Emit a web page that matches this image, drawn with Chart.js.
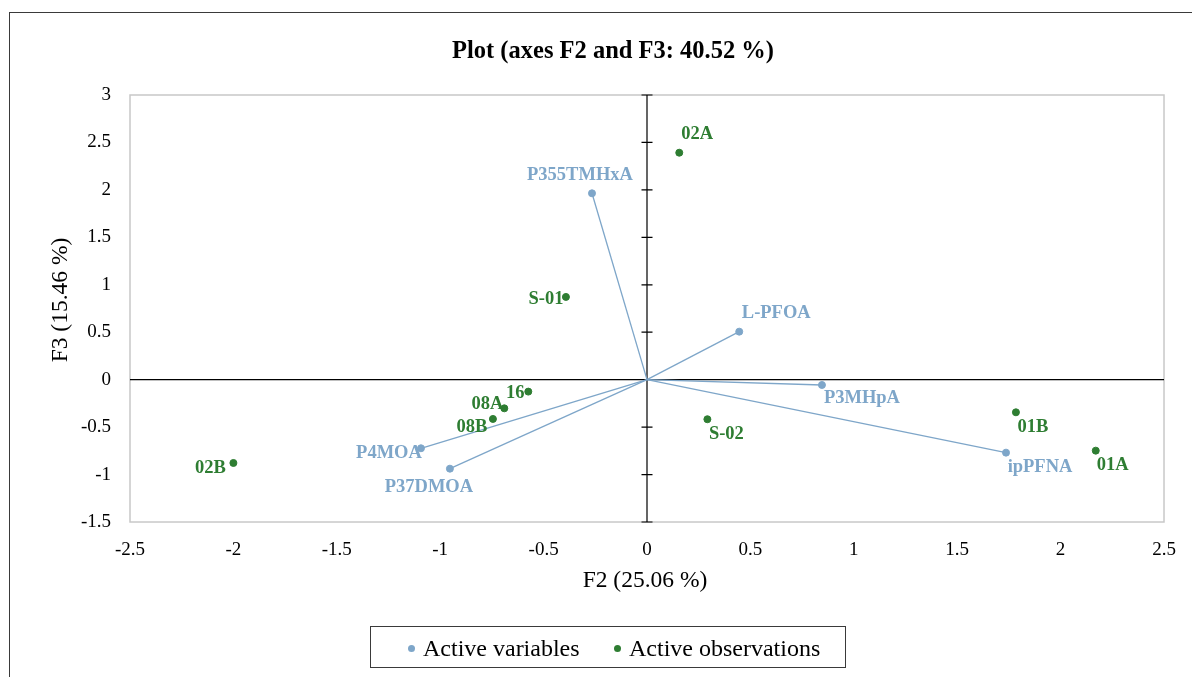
<!DOCTYPE html>
<html>
<head>
<meta charset="utf-8">
<script src="https://cdn.jsdelivr.net/npm/chart.js@4.4.1/dist/chart.umd.min.js"></script>
<style>
  html, body { margin: 0; padding: 0; background: #fff; overflow: hidden; }
  body { width: 1192px; height: 677px; position: relative; font-family: "Liberation Serif", "Times New Roman", serif; }
  #frame { position: absolute; left: 9px; top: 12px; width: 1300px; height: 800px; border: 1.5px solid #3a3a3a; }
  #pca { position: absolute; left: 0; top: 0; }
  .txt { position: absolute; white-space: nowrap; color: #000; }
  #title { left: 0; width: 1226px; text-align: center; top: 38px; font-size: 24.5px; line-height: 24px; font-weight: bold; }
  #xTitle { left: 545px; width: 200px; text-align: center; top: 568px; font-size: 23.5px; line-height: 22px; }
  #yTitle { left: -41px; width: 200px; text-align: center; top: 289px; font-size: 23.5px; line-height: 22px; transform: rotate(-90deg); }
  #legend { position: absolute; left: 370px; top: 626px; width: 476px; height: 42px; border: 1.3px solid #3a3a3a; box-sizing: border-box; }
  .item { position: absolute; top: 10px; font-size: 24px; line-height: 22px; white-space: nowrap; }
  .dot { position: absolute; width: 7px; height: 7px; border-radius: 50%; top: 18px; }
</style>
</head>
<body>
<div id="frame"></div>
<canvas id="pca" width="1192" height="677"></canvas>
<div class="txt" id="title">Plot (axes F2 and F3: 40.52 %)</div>
<div class="txt" id="xTitle">F2 (25.06 %)</div>
<div class="txt" id="yTitle">F3 (15.46 %)</div>
<div id="legend">
  <span class="dot" style="left:37px; background:#7ea6c9"></span>
  <span class="item" style="left:52px">Active variables</span>
  <span class="dot" style="left:243px; background:#2e7d32"></span>
  <span class="item" style="left:258px">Active observations</span>
</div>
<script>
// Active variables (loadings on F2 / F3)
const varNames = ["P355TMHxA", "L-PFOA", "P3MHpA", "ipPFNA", "P4MOA", "P37DMOA"];
const varF2 = [-0.266, 0.446, 0.846, 1.736, -1.093, -0.953];
const varF3 = [1.964, 0.506, -0.056, -0.769, -0.723, -0.938];

// Active observations
const obsNames = ["02A", "S-01", "16", "08A", "08B", "02B", "S-02", "01B", "01A"];
const obsF2 = [0.156, -0.392, -0.574, -0.690, -0.745, -2.000, 0.292, 1.784, 2.170];
const obsF3 = [2.392, 0.872, -0.126, -0.302, -0.414, -0.878, -0.417, -0.344, -0.748];

// axis range
const xMin = -2.5, xMax = 2.5, yMin = -1.5, yMax = 3, tickStep = 0.5;

const blue = "#7ea6c9";
const green = "#2e7d32";
const tickFont = { family: "Liberation Serif", size: 19 };
const labelFont = "bold 18.5px 'Liberation Serif'";

// where each point label sits (text centre, px from the point)
const varLabelShift = {
  "P355TMHxA": [-12, -19], "L-PFOA": [37, -20], "P3MHpA": [40, 12],
  "ipPFNA": [34, 13], "P4MOA": [-32, 4], "P37DMOA": [-21, 17]
};
const obsLabelShift = {
  "02A": [18, -20], "S-01": [-20, 1], "16": [-13, 0], "08A": [-17, -5], "08B": [-21, 7],
  "02B": [-23, 4], "S-02": [19, 14], "01B": [17, 14], "01A": [17, 13]
};

const toPoints = (xs, ys) => xs.map((x, i) => ({ x: x, y: ys[i] }));
const tickText = (v) => String(Number(v.toFixed(1)));

// one little line per variable, from the origin out to its point
const vectorSets = varNames.map((name, i) => ({
  type: "line",
  label: name,
  data: [{ x: 0, y: 0 }, { x: varF2[i], y: varF3[i] }],
  borderColor: blue,
  borderWidth: 1.3,
  pointRadius: 0,
  order: 2
}));

const axesPlugin = {
  id: "axesPlugin",
  beforeDatasetsDraw(chart) {
    const { ctx, chartArea: a, scales } = chart;
    ctx.save();
    // light plot frame
    ctx.strokeStyle = "#c8c8c8";
    ctx.lineWidth = 1.5;
    ctx.strokeRect(a.left, a.top, a.right - a.left, a.bottom - a.top);
    // zero lines
    const x0 = scales.x.getPixelForValue(0);
    const y0 = scales.y.getPixelForValue(0);
    ctx.strokeStyle = "#000";
    ctx.lineWidth = 1.2;
    ctx.beginPath();
    ctx.moveTo(a.left, y0); ctx.lineTo(a.right, y0);
    ctx.moveTo(x0, a.top); ctx.lineTo(x0, a.bottom);
    // tick marks on the vertical axis
    scales.y.ticks.forEach(t => {
      const py = scales.y.getPixelForValue(t.value);
      ctx.moveTo(x0 - 5.5, py); ctx.lineTo(x0 + 5.5, py);
    });
    ctx.stroke();
    ctx.restore();
  }
};

const labelPlugin = {
  id: "labelPlugin",
  afterDatasetsDraw(chart) {
    const ctx = chart.ctx;
    ctx.save();
    ctx.font = labelFont;
    ctx.textAlign = "center";
    ctx.textBaseline = "alphabetic";
    chart.data.datasets.forEach((ds, di) => {
      if (!ds.pointLabels) return;
      const meta = chart.getDatasetMeta(di);
      ctx.fillStyle = ds.backgroundColor;
      meta.data.forEach((el, i) => {
        const name = ds.pointLabels[i];
        const s = ds.labelShift[name] || [0, -15];
        ctx.fillText(name, el.x + s[0], el.y + s[1] + 18.5 * 0.33);
      });
    });
    ctx.restore();
  }
};

const pcaChart = new Chart(document.getElementById("pca"), {
  type: "scatter",
  data: {
    datasets: [
      {
        label: "Active variables",
        data: toPoints(varF2, varF3),
        pointLabels: varNames,
        labelShift: varLabelShift,
        backgroundColor: blue,
        borderColor: blue,
        pointRadius: 3.5,
        order: 0
      },
      {
        label: "Active observations",
        data: toPoints(obsF2, obsF3),
        pointLabels: obsNames,
        labelShift: obsLabelShift,
        backgroundColor: green,
        borderColor: green,
        pointRadius: 3.5,
        order: 0
      },
      ...vectorSets
    ]
  },
  plugins: [axesPlugin, labelPlugin],
  options: {
    animation: false,
    responsive: false,
    layout: { padding: { top: 95, bottom: 115, left: 70, right: 28 } },
    plugins: {
      legend: { display: false },
      title: { display: false },
      tooltip: { enabled: false }
    },
    scales: {
      x: {
        type: "linear",
        min: xMin,
        max: xMax,
        grid: { display: false },
        border: { display: false },
        ticks: { stepSize: tickStep, padding: 9, color: "#000", font: tickFont, maxRotation: 0, callback: tickText },
        afterFit(scale) { scale.height = 40; }
      },
      y: {
        type: "linear",
        min: yMin,
        max: yMax,
        grid: { display: false },
        border: { display: false },
        ticks: { stepSize: tickStep, padding: 11, color: "#000", font: tickFont, callback: tickText },
        afterFit(scale) { scale.width = 60; }
      }
    }
  }
});
</script>
</body>
</html>
